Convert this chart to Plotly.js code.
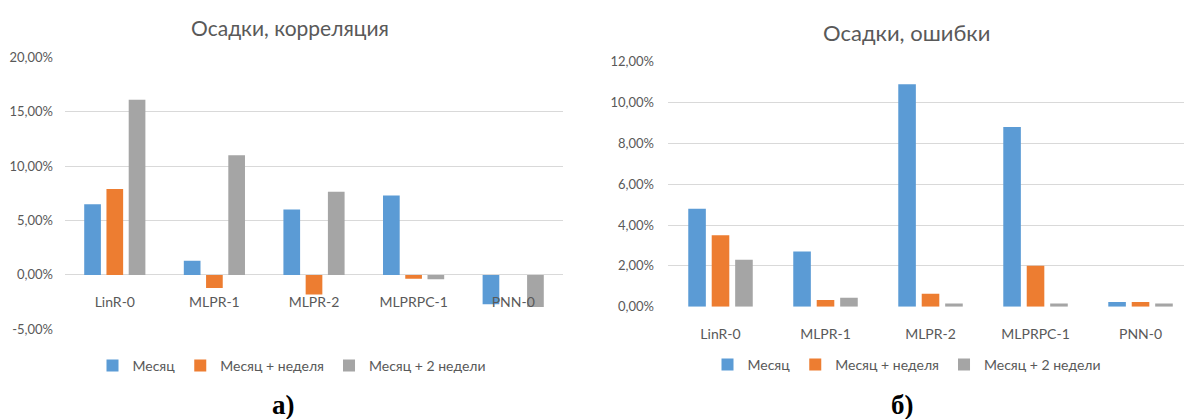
<!DOCTYPE html>
<html><head><meta charset="utf-8">
<script src="https://cdn.plot.ly/plotly-3.0.1.min.js"></script>
<style>html,body{margin:0;padding:0;background:#fff}#chart{width:1184px;height:419px}</style>
</head><body><div id="chart"></div>
<script>
// ---- data ----
const categories = ['LinR-0', 'MLPR-1', 'MLPR-2', 'MLPRPC-1', 'PNN-0'];
const seriesNames = ['Месяц', 'Месяц + неделя', 'Месяц + 2 недели'];
const corrMonth = [0.065, 0.013, 0.060, 0.073, -0.027];
const corrMonthWeek = [0.079, -0.012, -0.018, -0.0035, 0];
const corrMonth2Weeks = [0.161, 0.110, 0.0765, -0.004, -0.0295];
const errMonth = [0.048, 0.027, 0.109, 0.088, 0.0023];
const errMonthWeek = [0.035, 0.0033, 0.0064, 0.020, 0.0023];
const errMonth2Weeks = [0.023, 0.0044, 0.0016, 0.0016, 0.0016];
const corrTickVals = [-0.05, 0, 0.05, 0.10, 0.15, 0.20];
const corrTickText = ['-5,00%', '0,00%', '5,00%', '10,00%', '15,00%', '20,00%'];
const errTickVals = [0, 0.02, 0.04, 0.06, 0.08, 0.10, 0.12];
const errTickText = ['0,00%', '2,00%', '4,00%', '6,00%', '8,00%', '10,00%', '12,00%'];
const titles = ['Осадки, корреляция', 'Осадки, ошибки'];
const panelLabels = ['а)', 'б)'];

// ---- styling ----
const W = 1184, H = 419;
const colors = ['#5B9BD5', '#ED7D31', '#A5A5A5'];
const txt = '#595959';
const fam = 'Lato, "Open Sans", sans-serif';
const px = v => v / W;
const py = v => (H - v) / H;

const corrSeries = [corrMonth, corrMonthWeek, corrMonth2Weeks];
const errSeries = [errMonth, errMonthWeek, errMonth2Weeks];

const traces = [];
corrSeries.forEach((vals, i) => traces.push({
  type: 'bar', x: categories, y: vals, name: seriesNames[i],
  marker: {color: colors[i], line: {width: 0}},
  xaxis: 'x', yaxis: 'y', legend: 'legend', hoverinfo: 'none'
}));
errSeries.forEach((vals, i) => traces.push({
  type: 'bar', x: categories, y: vals, name: seriesNames[i],
  marker: {color: colors[i], line: {width: 0}},
  xaxis: 'x2', yaxis: 'y2', legend: 'legend2', hoverinfo: 'none'
}));

const tickFont = {family: fam, size: 13, color: txt};
const catFont = {family: fam, size: 14, color: txt};

const layout = {
  width: W, height: H,
  margin: {l: 0, r: 0, t: 0, b: 0},
  paper_bgcolor: '#fff', plot_bgcolor: 'rgba(0,0,0,0)',
  barmode: 'group', bargap: 0.33, bargroupgap: 0.25,
  showlegend: true,
  xaxis: {
    domain: [px(65), px(563)], range: [-0.5, 4.5],
    anchor: 'free', position: py(274),
    showgrid: false, zeroline: false, showline: false, ticks: '',
    tickfont: catFont, ticklabelstandoff: 18, fixedrange: true
  },
  yaxis: {
    domain: [py(329.3), py(57.3)], range: [-0.05, 0.20],
    tickvals: corrTickVals, ticktext: corrTickText,
    showgrid: true, gridcolor: '#d9d9d9', gridwidth: 1,
    zeroline: false, showline: false, ticks: '',
    tickfont: tickFont, ticklabelstandoff: 11, fixedrange: true
  },
  xaxis2: {
    domain: [px(668), 1], range: [-0.5, 4.414], anchor: 'y2',
    showgrid: false, zeroline: false, showline: false, ticks: '',
    tickfont: catFont, ticklabelstandoff: 17, fixedrange: true
  },
  yaxis2: {
    domain: [py(306.7), py(61.7)], range: [0, 0.12], anchor: 'x2',
    tickvals: errTickVals, ticktext: errTickText,
    showgrid: true, gridcolor: '#d9d9d9', gridwidth: 1,
    zeroline: false, showline: false, ticks: '',
    tickfont: tickFont, ticklabelstandoff: 13, fixedrange: true
  },
  legend: {
    orientation: 'h', x: px(292), xanchor: 'center', y: py(366), yanchor: 'middle',
    font: {family: fam, size: 14, color: txt}, bgcolor: 'rgba(0,0,0,0)',
    itemclick: false, itemdoubleclick: false
  },
  legend2: {
    orientation: 'h', x: px(907), xanchor: 'center', y: py(365), yanchor: 'middle',
    font: {family: fam, size: 14, color: txt}, bgcolor: 'rgba(0,0,0,0)',
    itemclick: false, itemdoubleclick: false
  },
  annotations: [
    {text: titles[0], xref: 'paper', yref: 'paper', x: px(290), y: py(27),
     xanchor: 'center', yanchor: 'middle', showarrow: false,
     font: {family: fam, size: 21, color: txt}},
    {text: titles[1], xref: 'paper', yref: 'paper', x: px(906), y: py(33),
     xanchor: 'center', yanchor: 'middle', showarrow: false,
     font: {family: fam, size: 22, color: txt}},
    {text: '<b>' + panelLabels[0] + '</b>', xref: 'paper', yref: 'paper', x: px(283.5), y: py(405),
     xanchor: 'center', yanchor: 'middle', showarrow: false,
     font: {family: '"Liberation Serif", "DejaVu Serif", serif', size: 27, color: '#000'}},
    {text: '<b>' + panelLabels[1] + '</b>', xref: 'paper', yref: 'paper', x: px(902), y: py(405),
     xanchor: 'center', yanchor: 'middle', showarrow: false,
     font: {family: '"Liberation Serif", "DejaVu Serif", serif', size: 27, color: '#000'}}
  ]
};

Plotly.newPlot('chart', traces, layout, {staticPlot: true, displayModeBar: false});
</script>
</body></html>
